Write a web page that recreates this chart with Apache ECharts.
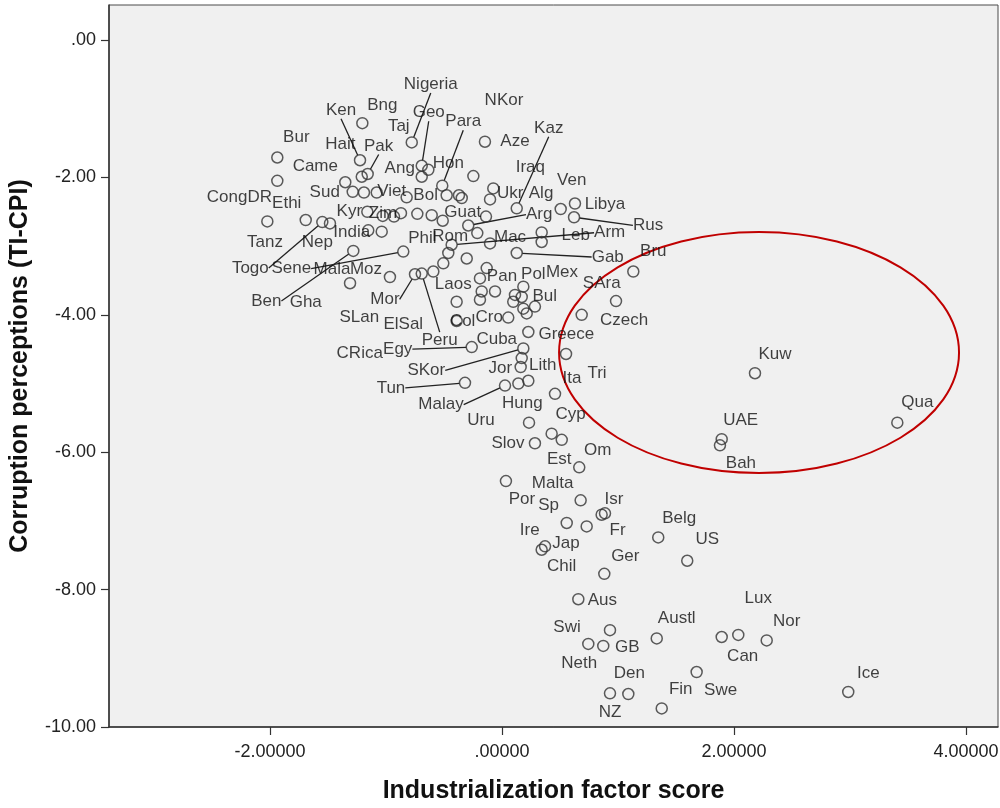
<!DOCTYPE html>
<html>
<head>
<meta charset="utf-8">
<script src="https://cdn.jsdelivr.net/npm/echarts@6/dist/echarts.min.js"></script>
<style>
  html, body { margin: 0; padding: 0; background: #ffffff; }
  #chart { width: 1000px; height: 808px; }
</style>
</head>
<body>
<div id="chart"></div>
<script>
// Country abbreviations ('' = case drawn without a label)
const countries = [
  'Bng','Bur','Came','Ken','Taj','Pak','Hait','Sud','','Viet',
  'CongDR','Ethi','Togo','Tanz','Kyr','Gha','Zim','','Nep','India',
  'Nigeria','Aze','Geo','Hon','Ang','Iraq','Para','Bol','','',
  '','Ukr','Alg','Kaz','Ven','Libya','Rus','Phil','','Guat',
  'NKor','Arg','Rom','Leb','','Mac','Sene','Arm','ElSal','Gab',
  'Laos','CRica','SLan','Mor','Peru','','Pan','','','',
  'Col','Pol','','Bul','','','Mex','','Cro','',
  'Greece','SAra','Czech','Bru','Egy','SKor','Tri','Cuba','Lith','Tun',
  'Malay','Jor','Hung','Ita','Uru','Cyp','Om','Slov','Est','Por',
  'Malta','Fr','Isr','Ire','Sp','Belg','US','Jap','Chil','Ger',
  'Aus','Swi','Neth','GB','Austl','Can','Lux','Nor','Swe','NZ',
  'Den','Fin','Ice','Kuw','Qua','UAE','Bah','Ben','Moz','Mala'
];

// Industrialization factor score
const industrialization = [
  -1.204,-1.937,-1.937,-1.224,-1.209,-1.158,-1.351,-1.287,-1.190,-1.080,
  -2.023,-1.692,-1.549,-1.483,-1.161,-1.028,-0.931,-0.871,-1.153,-1.037,
  -0.778,-0.147,-0.692,-0.635,-0.692,-0.247,-0.515,-0.822,-0.477,-0.371,
  -0.347,-0.075,-0.103,0.127,0.506,0.629,0.621,-0.730,-0.606,-0.511,
  -0.138,-0.291,-0.213,0.342,0.342,-0.103,-0.851,-0.434,-0.463,0.127,
  -0.506,-0.304,-0.592,-0.750,-0.692,-0.132,-0.190,-0.060,-0.175,-0.190,
  -0.391,0.184,0.112,0.170,0.097,0.184,0.284,0.213,0.054,-0.391,
  0.227,0.687,0.983,1.132,-0.261,0.184,0.552,0.170,0.161,-0.319,
  0.026,0.141,0.227,0.457,0.233,0.428,0.515,0.284,0.666,0.034,
  0.678,0.859,0.888,0.558,0.730,1.347,1.597,0.371,0.342,0.882,
  0.658,0.931,0.744,0.873,1.334,1.894,2.037,2.282,1.678,0.931,
  1.089,1.377,2.985,2.181,3.408,1.894,1.879,-1.282,-0.966,-1.310
];

// Corruption perceptions (TI-CPI, sign reversed)
const corruption = [
  -1.21,-1.71,-2.05,-1.75,-1.99,-1.95,-2.07,-2.21,-2.22,-2.22,
  -2.64,-2.62,-2.65,-2.67,-2.50,-2.56,-2.57,-2.52,-2.77,-2.79,
  -1.49,-1.48,-1.83,-1.89,-1.99,-1.98,-2.12,-2.29,-2.26,-2.26,
  -2.30,-2.16,-2.32,-2.45,-2.46,-2.38,-2.58,-2.53,-2.55,-2.63,
  -2.57,-2.70,-2.81,-2.80,-2.94,-2.96,-3.08,-2.98,-3.10,-3.10,
  -3.25,-3.18,-3.37,-3.41,-3.40,-3.32,-3.47,-3.66,-3.66,-3.78,
  -3.81,-3.59,-3.71,-3.74,-3.81,-3.91,-3.88,-3.98,-4.04,-4.09,
  -4.25,-4.00,-3.80,-3.37,-4.47,-4.49,-4.57,-4.63,-4.76,-4.99,
  -5.03,-5.00,-4.96,-5.15,-5.57,-5.73,-5.82,-5.87,-6.22,-6.42,
  -6.70,-6.91,-6.89,-7.03,-7.08,-7.24,-7.58,-7.37,-7.42,-7.77,
  -8.14,-8.59,-8.79,-8.82,-8.71,-8.69,-8.66,-8.74,-9.20,-9.51,
  -9.52,-9.73,-9.49,-4.85,-5.57,-5.81,-5.90,-3.07,-3.45,-3.54
];

const xTicks = [-2, 0, 2, 4];
const yTicks = [-10, -8, -6, -4, -2, 0];

// Highlighted region: centre x, centre y, half-width, half-height (axis units)
const highlight = [2.216, -4.549, 1.724, 1.754];

// Label placement: offset of the label centre from its marker, in px
const labelOffset = {
  Bng:[20,-18], Bur:[19,-20], Came:[38,-15], Ken:[-19,-50], Taj:[37,-50],
  Pak:[11,-28], Hait:[-5,-38], Sud:[-28,0], Viet:[15,-1], CongDR:[-28,-24],
  Ethi:[-19,-17], Togo:[-72,46], Tanz:[-65,19], Kyr:[-18,0], Gha:[-77,86],
  Zim:[-11,-3], Nep:[-51,12], India:[-30,1], Nigeria:[19,-58], Aze:[30,0],
  Geo:[7,-53], Hon:[20,-7], Ang:[-22,-8], Iraq:[57,-9], Para:[21,-64],
  Bol:[19,-2], Ukr:[17,5], Alg:[51,-6], Kaz:[32,-80], Ven:[11,-29],
  Libya:[30,1], Rus:[74,8], Phil:[5,24], Guat:[20,-8], NKor:[18,-116],
  Arg:[71,-11], Rom:[-27,3], Leb:[34,3], Mac:[20,-6], Sene:[-112,17],
  Arm:[158,-12], ElSal:[-45,71], Gab:[91,4], Laos:[10,21], CRica:[-107,95],
  SLan:[-74,46], Mor:[-30,25], Peru:[18,67], Pan:[22,-2], Col:[6,20],
  Pol:[10,-12], Bul:[23,-1], Mex:[27,-34], Cro:[-19,0], Greece:[38,2],
  SAra:[20,-32], Czech:[8,19], Bru:[20,-20], Egy:[-74,2], SKor:[-97,22],
  Tri:[31,19], Cuba:[-25,-19], Lith:[22,-2], Tun:[-74,5], Malay:[-64,19],
  Jor:[-18,-15], Hung:[-6,23], Ita:[17,-16], Uru:[-48,-2], Cyp:[19,-19],
  Om:[36,10], Slov:[-27,0], Est:[-20,-8], Por:[16,18], Malta:[-28,-17],
  Fr:[16,16], Isr:[9,-14], Ire:[-37,7], Sp:[-38,-21], Belg:[21,-19],
  US:[20,-21], Jap:[21,-3], Chil:[20,17], Ger:[21,-17], Aus:[24,1],
  Swi:[-43,-3], Neth:[-9,19], GB:[24,1], Austl:[20,-20], Can:[21,19],
  Lux:[20,-37], Nor:[20,-19], Swe:[24,18], NZ:[0,19], Den:[1,-21],
  Fin:[19,-19], Ice:[20,-19], Kuw:[20,-19], Qua:[20,-20], UAE:[19,-19],
  Bah:[21,18], Ben:[-87,50], Moz:[-24,-8], Mala:[-18,-14]
};

// Labels connected to their marker by a leader line
const leaderLabels = ['Nigeria','Ken','Pak','Geo','Para','Kaz','Arg','Rus','Togo','Sene',
  'Arm','Gab','Mor','Peru','Egy','SKor','Tun','Malay','Ben'];

const FONT = '"Liberation Sans", Arial, Helvetica, sans-serif';

const points = countries.map((name, i) => ({
  value: [industrialization[i], corruption[i]],
  name: name,
  label: { show: name !== '' },
  labelLine: { show: leaderLabels.indexOf(name) >= 0 }
}));

const chart = echarts.init(document.getElementById('chart'), null, { renderer: 'canvas' });

chart.setOption({
  animation: false,
  backgroundColor: '#ffffff',
  grid: {
    left: 109, right: 2, top: 5, bottom: 81,
    outerBoundsMode: 'none',
    containLabel: false,
    show: true, backgroundColor: '#f0f0f0', borderColor: '#4a4a4a', borderWidth: 1
  },
  xAxis: {
    type: 'value',
    min: -3.388, max: 4.276,
    name: 'Industrialization factor score',
    nameLocation: 'middle',
    nameGap: 52,
    nameTextStyle: { fontFamily: FONT, fontWeight: 'bold', fontSize: 25, color: '#111' },
    axisLine: { show: true, onZero: false, lineStyle: { color: '#333', width: 1.5 } },
    axisTick: { show: true, length: 8, customValues: xTicks, lineStyle: { color: '#333', width: 1.2 } },
    axisLabel: {
      customValues: xTicks, margin: 16, fontFamily: FONT, fontSize: 18, color: '#222',
      formatter: v => (v === 0 ? '.00000' : v.toFixed(5))
    },
    splitLine: { show: false }
  },
  yAxis: {
    type: 'value',
    min: -10, max: 0.51,
    name: 'Corruption perceptions (TI-CPI)',
    nameLocation: 'middle',
    nameGap: 76,
    nameTextStyle: { fontFamily: FONT, fontWeight: 'bold', fontSize: 25, color: '#111' },
    axisLine: { show: true, onZero: false, lineStyle: { color: '#333', width: 1.5 } },
    axisTick: { show: true, length: 8, customValues: yTicks, lineStyle: { color: '#333', width: 1.2 } },
    axisLabel: {
      customValues: yTicks, margin: 13, fontFamily: FONT, fontSize: 18, color: '#222',
      formatter: v => (v === 0 ? '.00' : v.toFixed(2))
    },
    splitLine: { show: false }
  },
  series: [
    {
      type: 'custom',
      silent: true,
      z: 1,
      data: [highlight],
      renderItem: (params, api) => {
        const c = api.coord([api.value(0), api.value(1)]);
        const s = api.size([api.value(2), api.value(3)]);
        return {
          type: 'ellipse',
          shape: { cx: c[0], cy: c[1], rx: s[0], ry: s[1] },
          style: { fill: 'none', stroke: '#c00000', lineWidth: 2 }
        };
      }
    },
    {
      type: 'scatter',
      z: 2,
      symbol: 'circle',
      symbolSize: 11,
      itemStyle: { color: 'rgba(0,0,0,0)', borderColor: '#333', borderWidth: 1.5 },
      label: {
        show: true,
        position: 'inside',
        formatter: p => p.name,
        fontFamily: FONT,
        fontSize: 17,
        color: '#111',
        textBorderWidth: 0
      },
      labelLine: { show: false, lineStyle: { color: '#222', width: 1.3 } },
      labelLayout: params => {
        const o = labelOffset[countries[params.dataIndex]];
        return o ? { dx: o[0], dy: o[1] } : {};
      },
      emphasis: { disabled: true },
      data: points
    }
  ]
});
</script>
</body>
</html>
